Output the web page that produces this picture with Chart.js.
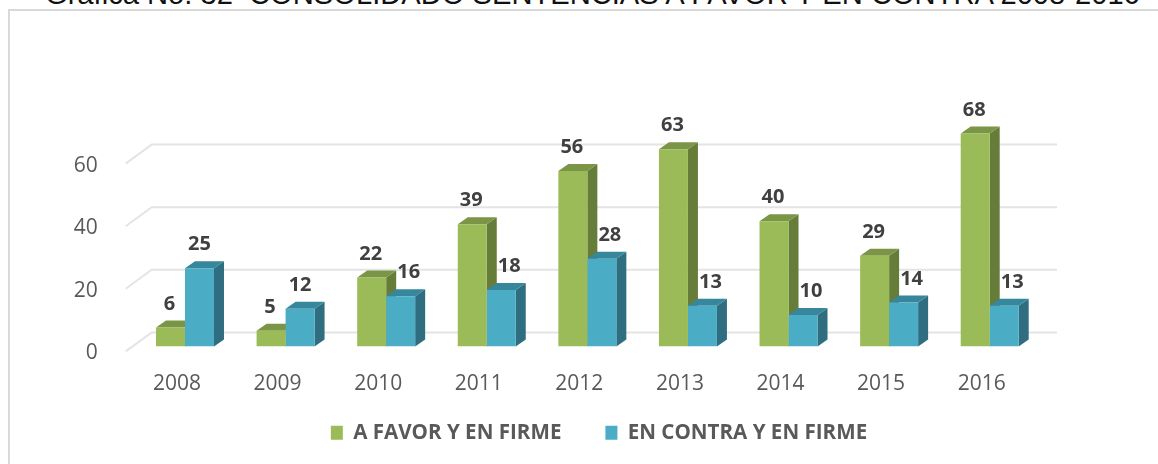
<!DOCTYPE html>
<html lang="es">
<head>
<meta charset="utf-8">
<title>Consolidado sentencias</title>
<script src="https://cdn.jsdelivr.net/npm/chart.js@4"></script>
<style>
  html, body { margin: 0; padding: 0; background: #fff; overflow: hidden; }
  #wrap { position: relative; width: 1158px; height: 464px; overflow: hidden; }
  #frame { position: absolute; left: 8px; top: 9px; right: 0; bottom: 0; border-left: 2px solid #d9d9d9; border-top: 2px solid #d9d9d9; }
  #title { position: absolute; left: 45px; top: -22px; white-space: nowrap; font: 29.15px "Liberation Sans", Arial, sans-serif; color: #111; }
  canvas { position: absolute; left: 0; top: 0; }
</style>
</head>
<body>
<div id="wrap">
  <div id="frame"></div>
  <div id="title">Grafica No. 32&nbsp; CONSOLIDADO SENTENCIAS A FAVOR Y EN CONTRA 2008-2016</div>
  <canvas id="chart" width="1158" height="464"></canvas>
</div>
<script>
// Data
const years = ["2008", "2009", "2010", "2011", "2012", "2013", "2014", "2015", "2016"];
const aFavor = [6, 5, 22, 39, 56, 63, 40, 29, 68];
const enContra = [25, 12, 16, 18, 28, 13, 10, 14, 13];
const yTicks = [0, 20, 40, 60];

// Colours of the fake 3D faces, by dataset
const faces = [
  { front: "#9bbb59", top: "#7a9546", side: "#667d3a" },
  { front: "#4bacc6", top: "#36869c", side: "#2f6e80" },
];
const FONT = '"Open Sans", sans-serif';

// Back wall grid lines and bar depth, drawn behind the bar fronts
const depthPlugin = {
  id: "depth",
  afterLayout(chart) {
    // legend sits off the default spot in the original
    chart.legend.left += 79;
    chart.legend.right += 79;
    chart.legend.top -= 28;
    chart.legend.bottom -= 28;
  },
  beforeDatasetsDraw(chart) {
    const { ctx, scales, chartArea } = chart;
    ctx.save();
    ctx.strokeStyle = "#e4e4e4";
    ctx.lineWidth = 2;
    yTicks.forEach((v) => {
      const y = scales.y.getPixelForValue(v);
      ctx.beginPath();
      ctx.moveTo(chartArea.left - 9, y + 5);
      ctx.lineTo(chartArea.left + 17, y - 14);
      ctx.lineTo(chartArea.right + 17, y - 14);
      ctx.stroke();
    });
    const dx = 10, dy = -7;
    chart.data.datasets.forEach((ds, i) => {
      chart.getDatasetMeta(i).data.forEach((bar) => {
        const w = bar.width / 2;
        const l = bar.x - w, r = bar.x + w;
        ctx.fillStyle = faces[i].side;
        ctx.beginPath();
        ctx.moveTo(r, bar.y);
        ctx.lineTo(r + dx, bar.y + dy);
        ctx.lineTo(r + dx, bar.base + dy);
        ctx.lineTo(r, bar.base);
        ctx.closePath();
        ctx.fill();
        ctx.fillStyle = faces[i].top;
        ctx.beginPath();
        ctx.moveTo(l, bar.y);
        ctx.lineTo(l + dx, bar.y + dy);
        ctx.lineTo(r + dx, bar.y + dy);
        ctx.lineTo(r, bar.y);
        ctx.closePath();
        ctx.fill();
      });
    });
    ctx.restore();
  },
  afterDatasetsDraw(chart) {
    const { ctx } = chart;
    ctx.save();
    ctx.fillStyle = "#404040";
    ctx.font = "bold 20px " + FONT;
    ctx.textAlign = "center";
    ctx.textBaseline = "alphabetic";
    chart.data.datasets.forEach((ds, i) => {
      chart.getDatasetMeta(i).data.forEach((bar, j) => {
        let x = bar.x - (i === 0 ? 1 : 0);
        // blue labels move clear of a taller green bar
        if (i === 1 && aFavor[j] > enContra[j]) x += 8;
        ctx.fillText(String(ds.data[j]), x, bar.y - 18);
      });
    });
    ctx.restore();
  },
};

new Chart(document.getElementById("chart"), {
  type: "bar",
  data: {
    labels: years,
    datasets: [
      { label: "A FAVOR Y EN FIRME", data: aFavor, backgroundColor: faces[0].front },
      { label: "EN CONTRA Y EN FIRME", data: enContra, backgroundColor: faces[1].front },
    ],
  },
  options: {
    responsive: false,
    animation: false,
    layout: { padding: { top: 96, right: 118, left: 0, bottom: -17 } },
    datasets: { bar: { categoryPercentage: 0.5765, barPercentage: 1, borderWidth: 0 } },
    scales: {
      x: {
        grid: { display: false },
        border: { display: false },
        afterFit(scale) { scale.height = 60; },
        ticks: { color: "#595959", font: { family: FONT, size: 21 }, padding: 17, labelOffset: -8, maxRotation: 0 },
      },
      y: {
        min: 0,
        max: 80,
        grid: { display: false },
        border: { display: false },
        afterFit(scale) { scale.width = 134.7; },
        afterBuildTicks(scale) { scale.ticks = yTicks.map((value) => ({ value })); },
        ticks: { color: "#595959", font: { family: FONT, size: 21 }, padding: 29, labelOffset: 7 },
      },
    },
    plugins: {
      tooltip: { enabled: false },
      legend: {
        position: "bottom",
        labels: { color: "#595959", font: { family: FONT, size: 20.6, weight: "bold" }, boxWidth: 12, boxHeight: 14, padding: 44 },
      },
    },
  },
  plugins: [depthPlugin],
});
</script>
</body>
</html>
